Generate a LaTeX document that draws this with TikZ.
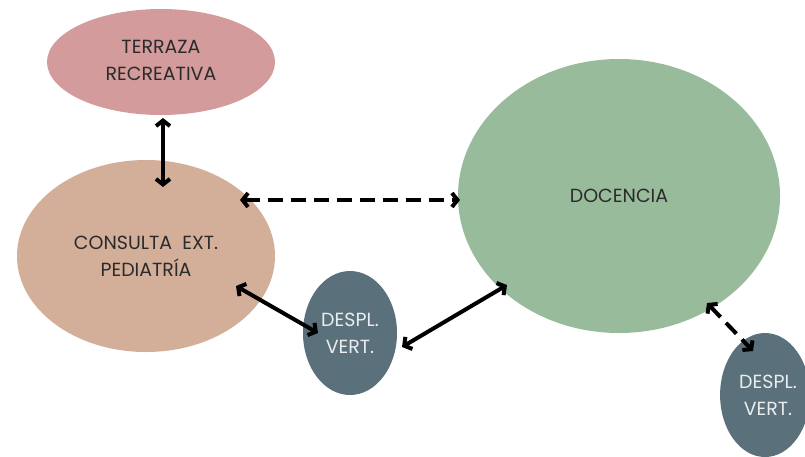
\documentclass[tikz,border=0pt]{standalone}
\usepackage{fontspec}
\setmainfont{Poppins}
\usetikzlibrary{arrows.meta,shapes.geometric}
\definecolor{terrc}{HTML}{D39B9B}
\definecolor{consc}{HTML}{D3AF9A}
\definecolor{docc}{HTML}{97BB9B}
\definecolor{despc}{HTML}{5A717B}
\definecolor{txtd}{HTML}{2B2B2B}
\definecolor{txtl}{HTML}{E9EDEF}
\tikzset{
  blob/.style={ellipse, inner sep=0pt, draw=none, align=center, text=txtd,
    font=\fontsize{19}{27}\selectfont},
  lightblob/.style={blob, text=txtl},
  link/.style={line width=4pt, {Straight Barb[length=5.5pt,width=14pt]}-{Straight Barb[length=5.5pt,width=14pt]}},
  dlink/.style={link, dash pattern=on 15pt off 8pt}
}
\begin{document}
\begin{tikzpicture}[x=1pt,y=-1pt]
\useasboundingbox (0,0) rectangle (805,456);
\clip (0,0) rectangle (805,456);
\fill[white] (0,0) rectangle (805,456);
\node[blob, fill=terrc, minimum width=228pt, minimum height=106pt] (terr) at (161,62) {\raisebox{3pt}{TERRAZA}\\\raisebox{3pt}{RECREATIVA}};
\node[blob, fill=consc, minimum width=258pt, minimum height=192pt] (cons) at (146,256) {CONSULTA\ \ EXT.\\PEDIATRÍA};
\node[blob, fill=docc, minimum width=322pt, minimum height=274pt] (doc) at (619,196) {DOCENCIA};
\node[lightblob, fill=despc, minimum width=94pt, minimum height=124pt] (d1) at (350,333) {DESPL.\\VERT.};
\node[lightblob, fill=despc, minimum width=86pt, minimum height=124pt] (d2) at (765,395) {\hspace*{6pt}DESPL.\\\hspace*{6pt}VERT.};
\coordinate (a1) at (163,118);
\coordinate (a2) at (163,187);
\coordinate (b1) at (240,200);
\coordinate (b2) at (460,200);
\coordinate (c1) at (236,286);
\coordinate (c2) at (318,333);
\coordinate (e1) at (402,347);
\coordinate (e2) at (507,285);
\coordinate (f1) at (707,303);
\coordinate (f2) at (753,351);
\draw[link] (a1) -- (a2);
\draw[dlink] (b1) -- (b2);
\draw[link] (c1) -- (c2);
\draw[link] (e1) -- (e2);
\draw[dlink] (f1) -- (f2);
\end{tikzpicture}
\end{document}
